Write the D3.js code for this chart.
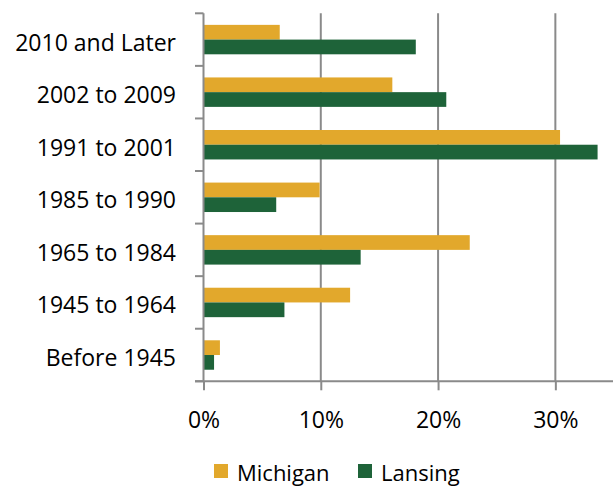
<!DOCTYPE html>
<html>
<head>
<meta charset="utf-8">
<script src="https://cdn.jsdelivr.net/npm/d3@7"></script>
<style>
  body { margin: 0; background: #fff; }
  svg { display: block; }
  text { font-family: 'Open Sans', sans-serif; fill: #000; }
</style>
</head>
<body>
<svg id="chart"></svg>
<script>
// data
let categories = ['2010 and Later', '2002 to 2009', '1991 to 2001', '1985 to 1990', '1965 to 1984', '1945 to 1964', 'Before 1945'];
let michigan = [6.5, 16.1, 30.4, 9.9, 22.7, 12.5, 1.4];
let lansing = [18.1, 20.7, 33.6, 6.2, 13.4, 6.9, 0.9];
let seriesNames = ['Michigan', 'Lansing'];
let seriesColors = ['#E2A82C', '#1E6339'];
let xTicks = [0, 10, 20, 30];

let width = 613;
let height = 487;

let svg = d3.select('#chart').attr('width', width).attr('height', height);

let x = d3.scaleLinear()
  .domain([0, 35])
  .range([203.5, 614]);

let y = d3.scaleBand()
  .domain(categories)
  .range([13.3, 381.3])
  .paddingInner(0.44)
  .paddingOuter(0.22);

let ySub = d3.scaleBand()
  .domain(seriesNames)
  .range([0, y.bandwidth()]);

let gridColor = '#8a8a8a';

// vertical gridlines
svg.append('g')
  .selectAll('line')
  .data(xTicks.slice(1))
  .enter().append('line')
  .attr('x1', d => x(d))
  .attr('x2', d => x(d))
  .attr('y1', 13.3)
  .attr('y2', 381.3)
  .attr('stroke', gridColor)
  .attr('stroke-width', 2);

// bars
let rows = categories.map((c, i) => ({ cat: c, values: [michigan[i], lansing[i]] }));

let groups = svg.append('g')
  .selectAll('g')
  .data(rows)
  .enter().append('g')
  .attr('transform', d => `translate(0,${y(d.cat)})`);

groups.selectAll('rect')
  .data(d => d.values.map((v, j) => ({ name: seriesNames[j], value: v, color: seriesColors[j] })))
  .enter().append('rect')
  .attr('x', x(0))
  .attr('y', d => ySub(d.name))
  .attr('width', d => x(d.value) - x(0))
  .attr('height', ySub.bandwidth())
  .attr('fill', d => d.color);

// bottom axis
let xAxis = d3.axisBottom(x)
  .tickValues(xTicks)
  .tickSize(9)
  .tickPadding(21.5)
  .tickFormat(d => d + '%');

let gx = svg.append('g')
  .attr('transform', 'translate(0,381.3)')
  .call(xAxis);
gx.select('.domain').remove();
gx.append('line')
  .attr('x1', 195).attr('x2', 613)
  .attr('stroke', gridColor).attr('stroke-width', 2);
gx.selectAll('.tick line').attr('stroke', gridColor).attr('stroke-width', 2);
gx.selectAll('.tick text')
  .attr('font-size', '23px')
  .attr('font-family', 'Open Sans')
  .attr('fill', '#000');

// left axis: line + boundary ticks
let gy = svg.append('g');
gy.append('line')
  .attr('x1', 203.5).attr('x2', 203.5)
  .attr('y1', 13.3).attr('y2', 381.3)
  .attr('stroke', gridColor).attr('stroke-width', 2);

let bounds = categories.map(c => y(c) - y.step() * y.paddingInner() / 2);
bounds.push(381.3);
gy.selectAll('.btick')
  .data(bounds)
  .enter().append('line')
  .attr('x1', 195).attr('x2', 203.5)
  .attr('y1', d => d).attr('y2', d => d)
  .attr('stroke', gridColor).attr('stroke-width', 2);

gy.selectAll('text')
  .data(categories)
  .enter().append('text')
  .attr('x', 176)
  .attr('y', d => y(d) + y.bandwidth() / 2)
  .attr('dy', '0.48em')
  .attr('text-anchor', 'end')
  .attr('font-size', '23px')
  .text(d => d);

// legend (kept just inside the bottom edge)
let legend = svg.append('g').attr('transform', 'translate(214,464)');
let legendX = [0, 144];
seriesNames.forEach((name, i) => {
  let item = legend.append('g').attr('transform', `translate(${legendX[i]},0)`);
  item.append('rect')
    .attr('width', 14).attr('height', 14)
    .attr('fill', seriesColors[i]);
  item.append('text')
    .attr('x', 23)
    .attr('y', 17)
    .attr('font-size', '22px')
    .text(name);
});
</script>
</body>
</html>
